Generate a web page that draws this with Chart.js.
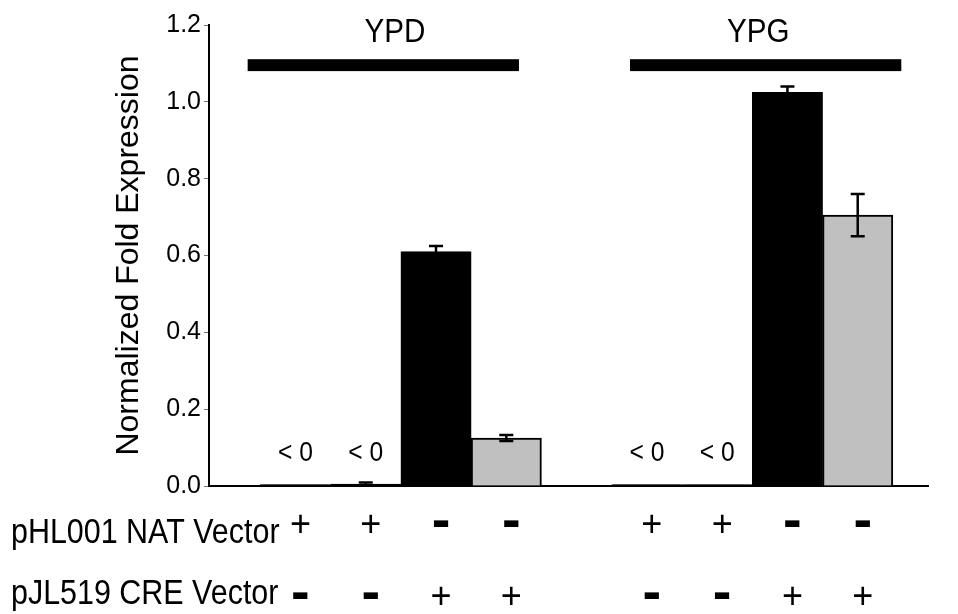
<!DOCTYPE html>
<html>
<head>
<meta charset="utf-8">
<script src="https://cdn.jsdelivr.net/npm/chart.js@4.4.1/dist/chart.umd.min.js"></script>
<style>
  body { margin: 0; background: #fff; }
</style>
</head>
<body>
<canvas id="myChart" width="958" height="614"></canvas>
<script>
// slot on the x axis for each bar (slot 4 is the gap between media)
const slots = [0, 1, 2, 3, 5, 6, 7, 8];
const expression = [0.004, 0.005, 0.61, 0.125, 0.004, 0.004, 1.025, 0.705];
const errors = [0, 0.004, 0.015, 0.008, 0, 0, 0.015, 0.055];
const barNotes = ['< 0', '< 0', '', '', '< 0', '< 0', '', ''];
const natVector = ['+', '+', '-', '-', '+', '+', '-', '-'];
const creVector = ['-', '-', '+', '+', '-', '-', '+', '+'];
const rowNames = ['pHL001 NAT Vector', 'pJL519 CRE Vector'];
const media = ['YPD', 'YPG'];
const mediaFirst = [0, 5];
const mediaLast = [3, 8];

const FONT = '"Liberation Sans", Arial, sans-serif';
const barColors = ['#000', '#000', '#000', '#c0c0c0', '#000', '#000', '#000', '#c0c0c0'];

// narrow text: the original uses a condensed Arial
function narrowText(ctx, text, x, y, font, sx) {
	ctx.save();
	ctx.translate(x, y);
	ctx.scale(sx, 1);
	ctx.font = font;
	ctx.fillText(text, 0, 0);
	ctx.restore();
}

const extras = {
	id: 'extras',
	afterDatasetsDraw(chart) {
		const ctx = chart.ctx;
		const x = chart.scales.x;
		const y = chart.scales.y;
		ctx.save();

		// error bars
		ctx.strokeStyle = '#000';
		ctx.lineWidth = 2.5;
		for (let i = 0; i < slots.length; i++) {
			if (!errors[i]) continue;
			const cx = x.getPixelForValue(slots[i]);
			const top = y.getPixelForValue(expression[i] + errors[i]);
			const bot = y.getPixelForValue(expression[i] - errors[i]);
			ctx.beginPath();
			ctx.moveTo(cx, top); ctx.lineTo(cx, bot);
			ctx.moveTo(cx - 7, top); ctx.lineTo(cx + 7, top);
			ctx.moveTo(cx - 7, bot); ctx.lineTo(cx + 7, bot);
			ctx.stroke();
		}

		ctx.fillStyle = '#000';
		ctx.textAlign = 'center';
		ctx.textBaseline = 'middle';

		// "< 0" notes
		for (let i = 0; i < slots.length; i++) {
			if (barNotes[i]) narrowText(ctx, barNotes[i], x.getPixelForValue(slots[i]), y.getPixelForValue(0.085), '28px ' + FONT, 0.88);
		}

		// media brackets and names
		const shift = [-0.25, 0.19];
		for (let g = 0; g < media.length; g++) {
			const mid = (mediaFirst[g] + mediaLast[g]) / 2;
			const l = x.getPixelForValue(mid + shift[g] - 1.93);
			const r = x.getPixelForValue(mid + shift[g] + 1.93);
			const t = y.getPixelForValue(1.111);
			const b = y.getPixelForValue(1.080);
			ctx.fillRect(l, t, r - l, b - t);
			narrowText(ctx, media[g], x.getPixelForValue(mid) - 6 * (g === 0 ? 1 : -1), y.getPixelForValue(1.18), '34px ' + FONT, 0.87);
		}

		// vector rows under the axis
		const baselines = [543, 604];
		const signMid = [523, 595];
		const rows = [natVector, creVector];
		ctx.textBaseline = 'alphabetic';
		for (let r = 0; r < rows.length; r++) {
			ctx.textAlign = 'left';
			narrowText(ctx, rowNames[r], 11, baselines[r], '35px ' + FONT, 0.87);
			ctx.textAlign = 'center';
			for (let i = 0; i < slots.length; i++) {
				const cx = x.getPixelForValue(slots[i]) + 5;
				if (rows[r][i] === '+') {
					narrowText(ctx, '+', cx, signMid[r] + 12.5, '36px ' + FONT, 1);
				} else {
					narrowText(ctx, '-', cx, signMid[r] + 14.5, 'bold 56px ' + FONT, 1);
				}
			}
		}
		ctx.restore();
	}
};

const data = {
	datasets: [{
		data: slots.map((s, i) => ({ x: s, y: expression[i] })),
		backgroundColor: barColors,
		borderColor: '#000',
		borderWidth: 2,
		barPercentage: 1,
		categoryPercentage: 1
	}]
};

const config = {
	type: 'bar',
	data: data,
	options: {
		responsive: false,
		animation: false,
		devicePixelRatio: 1,
		layout: { padding: { left: 113, right: 30, top: 25, bottom: 0 } },
		plugins: { legend: { display: false }, tooltip: { enabled: false } },
		scales: {
			x: {
				type: 'linear',
				offset: false,
				min: -1.23,
				max: 9.0,
				ticks: { display: false },
				grid: { display: false },
				border: { display: true, color: '#000', width: 2 },
				afterFit: (s) => { s.height = 128; }
			},
			y: {
				min: 0,
				max: 1.2,
				ticks: {
					stepSize: 0.2,
					color: '#000',
					padding: 3,
					font: { family: FONT, size: 25 },
					callback: (v) => v.toFixed(1)
				},
				grid: { drawOnChartArea: false, drawTicks: true, tickLength: 5, color: '#777' },
				border: { display: true, color: '#000', width: 2 },
				title: {
					display: true,
					text: 'Normalized Fold Expression',
					color: '#000',
					padding: 0,
					font: { family: FONT, size: 32, lineHeight: 1 }
				},
				afterFit: (s) => { s.width = 96; }
			}
		}
	},
	plugins: [extras]
};

const myChart = new Chart(document.getElementById('myChart'), config);
</script>
</body>
</html>
